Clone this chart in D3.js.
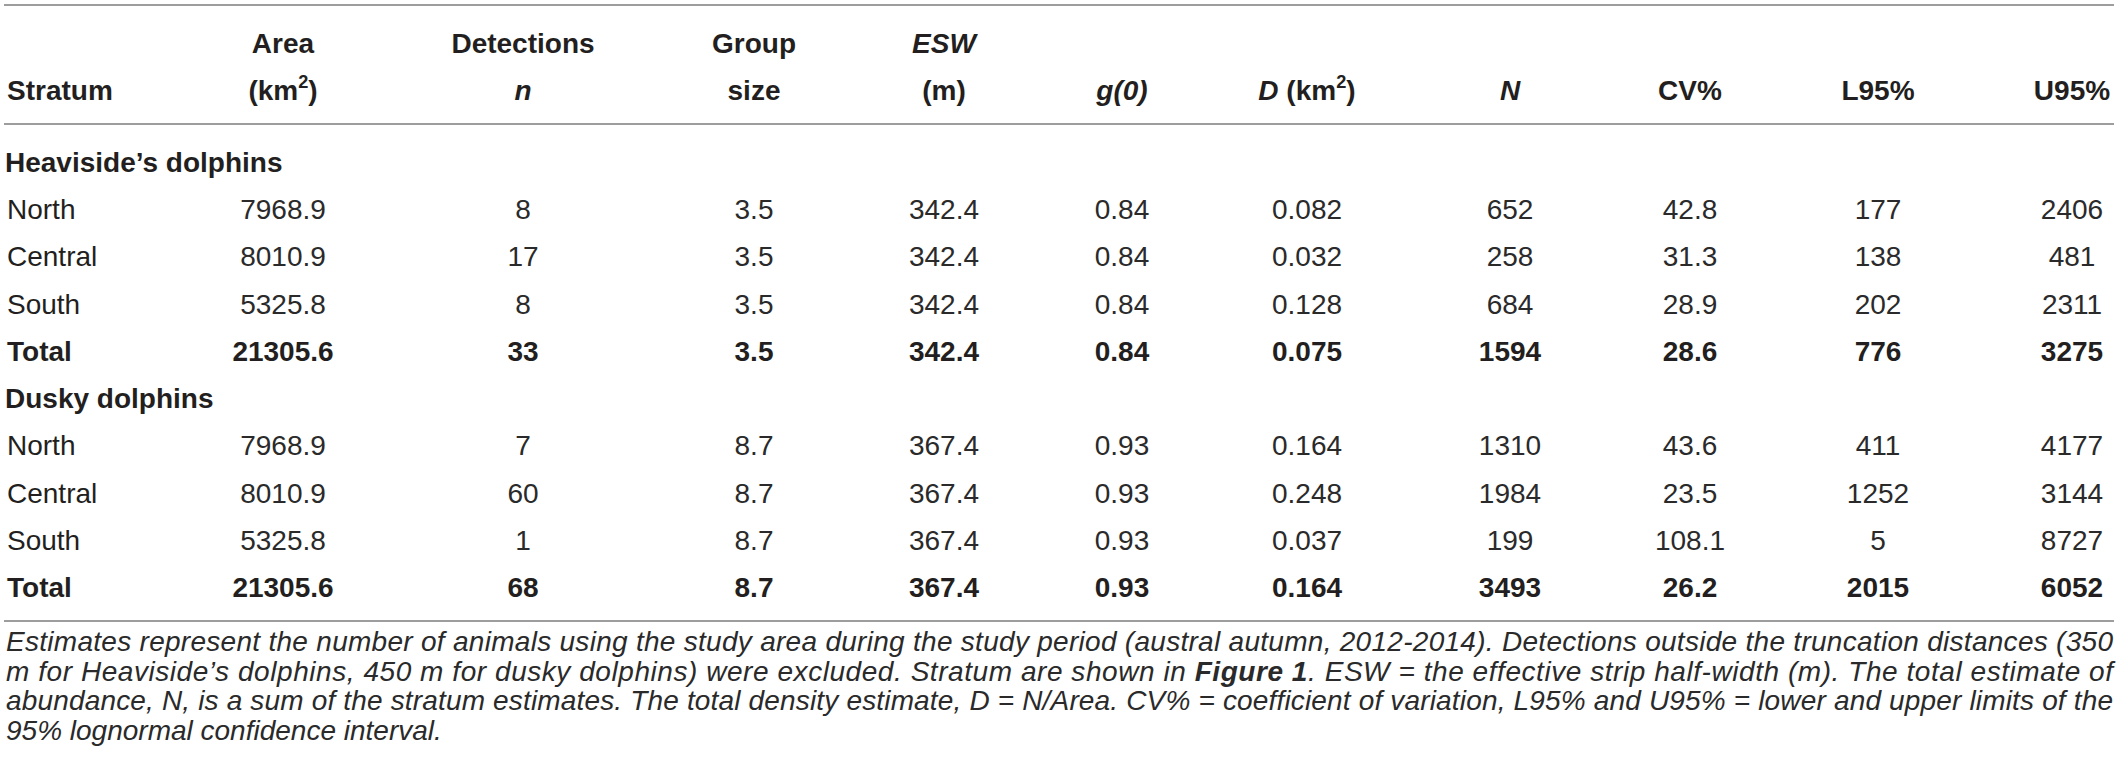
<!DOCTYPE html>
<html>
<head>
<meta charset="utf-8">
<script src="https://cdn.jsdelivr.net/npm/d3@7"></script>
<style>
  html, body { margin: 0; padding: 0; background: #fff; }
  svg { display: block; font-family: "Liberation Sans", Arial, Helvetica, sans-serif; }
</style>
</head>
<body>
<svg id="chart" width="2122" height="782"></svg>
<script>
// table values
const strata = ['North', 'Central', 'South', 'Total'];
const species = ['Heaviside\u2019s dolphins', 'Dusky dolphins'];
const area = ['7968.9', '8010.9', '5325.8', '21305.6'];

const heavDetections = ['8', '17', '8', '33'];
const heavGroup = ['3.5', '3.5', '3.5', '3.5'];
const heavESW = ['342.4', '342.4', '342.4', '342.4'];
const heavG0 = ['0.84', '0.84', '0.84', '0.84'];
const heavD = ['0.082', '0.032', '0.128', '0.075'];
const heavN = ['652', '258', '684', '1594'];
const heavCV = ['42.8', '31.3', '28.9', '28.6'];
const heavL95 = ['177', '138', '202', '776'];
const heavU95 = ['2406', '481', '2311', '3275'];

const duskDetections = ['7', '60', '1', '68'];
const duskGroup = ['8.7', '8.7', '8.7', '8.7'];
const duskESW = ['367.4', '367.4', '367.4', '367.4'];
const duskG0 = ['0.93', '0.93', '0.93', '0.93'];
const duskD = ['0.164', '0.248', '0.037', '0.164'];
const duskN = ['1310', '1984', '199', '3493'];
const duskCV = ['43.6', '23.5', '108.1', '26.2'];
const duskL95 = ['411', '1252', '5', '2015'];
const duskU95 = ['4177', '3144', '8727', '6052'];

// header cells: [text, italic, superscript] segments, two lines each
const columns = ['stratum', 'area', 'det', 'group', 'esw', 'g0', 'd', 'n', 'cv', 'l95', 'u95'];
const headTop = [
    [], [['Area']], [['Detections']], [['Group']], [['ESW', true]],
    [], [], [], [], [], []
];
const headBottom = [
    [['Stratum']], [['(km'], ['2', false, true], [')']], [['n', true]], [['size']], [['(m)']],
    [['g(0)', true]], [['D', true], [' (km'], ['2', false, true], [')']], [['N', true]],
    [['CV%']], [['L95%']], [['U95%']]
];

const footLines = [
    [['Estimates represent the number of animals using the study area during the study period (austral autumn, 2012-2014). Detections outside the truncation distances (350']],
    [['m for Heaviside\u2019s dolphins, 450 m for dusky dolphins) were excluded. Stratum are shown in '], ['Figure 1', true], ['. ESW = the effective strip half-width (m). The total estimate of']],
    [['abundance, N, is a sum of the stratum estimates. The total density estimate, D = N/Area. CV% = coefficient of variation, L95% and U95% = lower and upper limits of the']],
    [['95% lognormal confidence interval.']]
];

// layout
const W = 2122;
const ink = '#231f20';
const ruleColor = '#9d9d9d';
const fontSize = 28;
const colX = [7, 283, 523, 754, 944, 1122, 1307, 1510, 1690, 1878, 2072];

const svg = d3.select('#chart');

const x = d3.scaleOrdinal().domain(columns).range(colX);

// body rows
const rows = [];
species.forEach((sp, si) => {
    rows.push({ label: sp, section: true });
    const cols = si === 0
        ? [area, heavDetections, heavGroup, heavESW, heavG0, heavD, heavN, heavCV, heavL95, heavU95]
        : [area, duskDetections, duskGroup, duskESW, duskG0, duskD, duskN, duskCV, duskL95, duskU95];
    strata.forEach((s, i) => {
        rows.push({ label: s, total: s === 'Total', values: cols.map(c => c[i]) });
    });
});

const y = d3.scalePoint().domain(d3.range(rows.length)).range([162, 587]);
const capHalf = 10;

// rules
const rules = [5, 124, 621];
svg.selectAll('line.rule').data(rules).enter().append('line')
    .attr('class', 'rule')
    .attr('x1', 4).attr('x2', 2114)
    .attr('y1', d => d).attr('y2', d => d)
    .attr('stroke', ruleColor)
    .attr('stroke-width', 2);

function addSegments(text, segs) {
    let raised = false;
    segs.forEach(([t, it, sup]) => {
        const ts = text.append('tspan').text(t);
        if (it) ts.attr('font-style', 'italic');
        if (sup) {
            ts.attr('font-size', fontSize * 0.65).attr('dy', -fontSize * 0.42);
            raised = true;
        } else if (raised) {
            ts.attr('dy', fontSize * 0.42);
            raised = false;
        }
    });
}

// header
const head = svg.append('g').attr('fill', ink).attr('font-weight', 'bold').attr('font-size', fontSize);
[[headTop, 53], [headBottom, 100]].forEach(([cells, baseY]) => {
    cells.forEach((segs, i) => {
        if (!segs.length) return;
        const t = head.append('text')
            .attr('x', x(columns[i]))
            .attr('y', baseY)
            .attr('text-anchor', i === 0 ? 'start' : 'middle');
        addSegments(t, segs);
    });
});

// body
const body = svg.append('g').attr('font-size', fontSize);
const rowG = body.selectAll('g.row').data(rows).enter().append('g')
    .attr('class', 'row')
    .attr('transform', (d, i) => `translate(0,${y(i) + capHalf})`);

rowG.append('text')
    .attr('x', d => d.section ? 5 : x('stratum'))
    .attr('fill', ink)
    .attr('font-weight', d => (d.section || d.total) ? 'bold' : 'normal')
    .text(d => d.label);

rowG.filter(d => !d.section).selectAll('text.val')
    .data(d => d.values.map((v, j) => ({ v, col: columns[j + 1], total: d.total })))
    .enter().append('text')
    .attr('class', 'val')
    .attr('x', d => x(d.col))
    .attr('text-anchor', 'middle')
    .attr('fill', d => d.total ? ink : '#2a2a2a')
    .attr('font-weight', d => d.total ? 'bold' : 'normal')
    .text(d => d.v);

// footnote: justified italic lines
const footX = 6, footRight = 2113;
const footY = d3.scalePoint().domain(d3.range(footLines.length)).range([651, 740]);
const foot = svg.append('g').attr('fill', '#2a2a2a').attr('font-style', 'italic');

// pick the size where the longest full line just fits the block
const probe = foot.append('text').attr('font-size', 100).attr('visibility', 'hidden');
let widest = 0;
footLines.slice(0, 3).forEach(segs => {
    probe.selectAll('*').remove();
    segs.forEach(([t, b]) => probe.append('tspan').attr('font-weight', b ? 'bold' : 'normal').text(t));
    widest = Math.max(widest, probe.node().getComputedTextLength());
});
probe.remove();
const footSize = Math.min(28, 100 * (footRight - footX) / widest);

footLines.forEach((segs, i) => {
    const t = foot.append('text')
        .attr('x', footX)
        .attr('y', footY(i))
        .attr('font-size', footSize);
    segs.forEach(([s, b]) => t.append('tspan').attr('font-weight', b ? 'bold' : 'normal').text(s));
    if (i < footLines.length - 1) {
        t.attr('textLength', footRight - footX).attr('lengthAdjust', 'spacing');
    }
});
</script>
</body>
</html>
